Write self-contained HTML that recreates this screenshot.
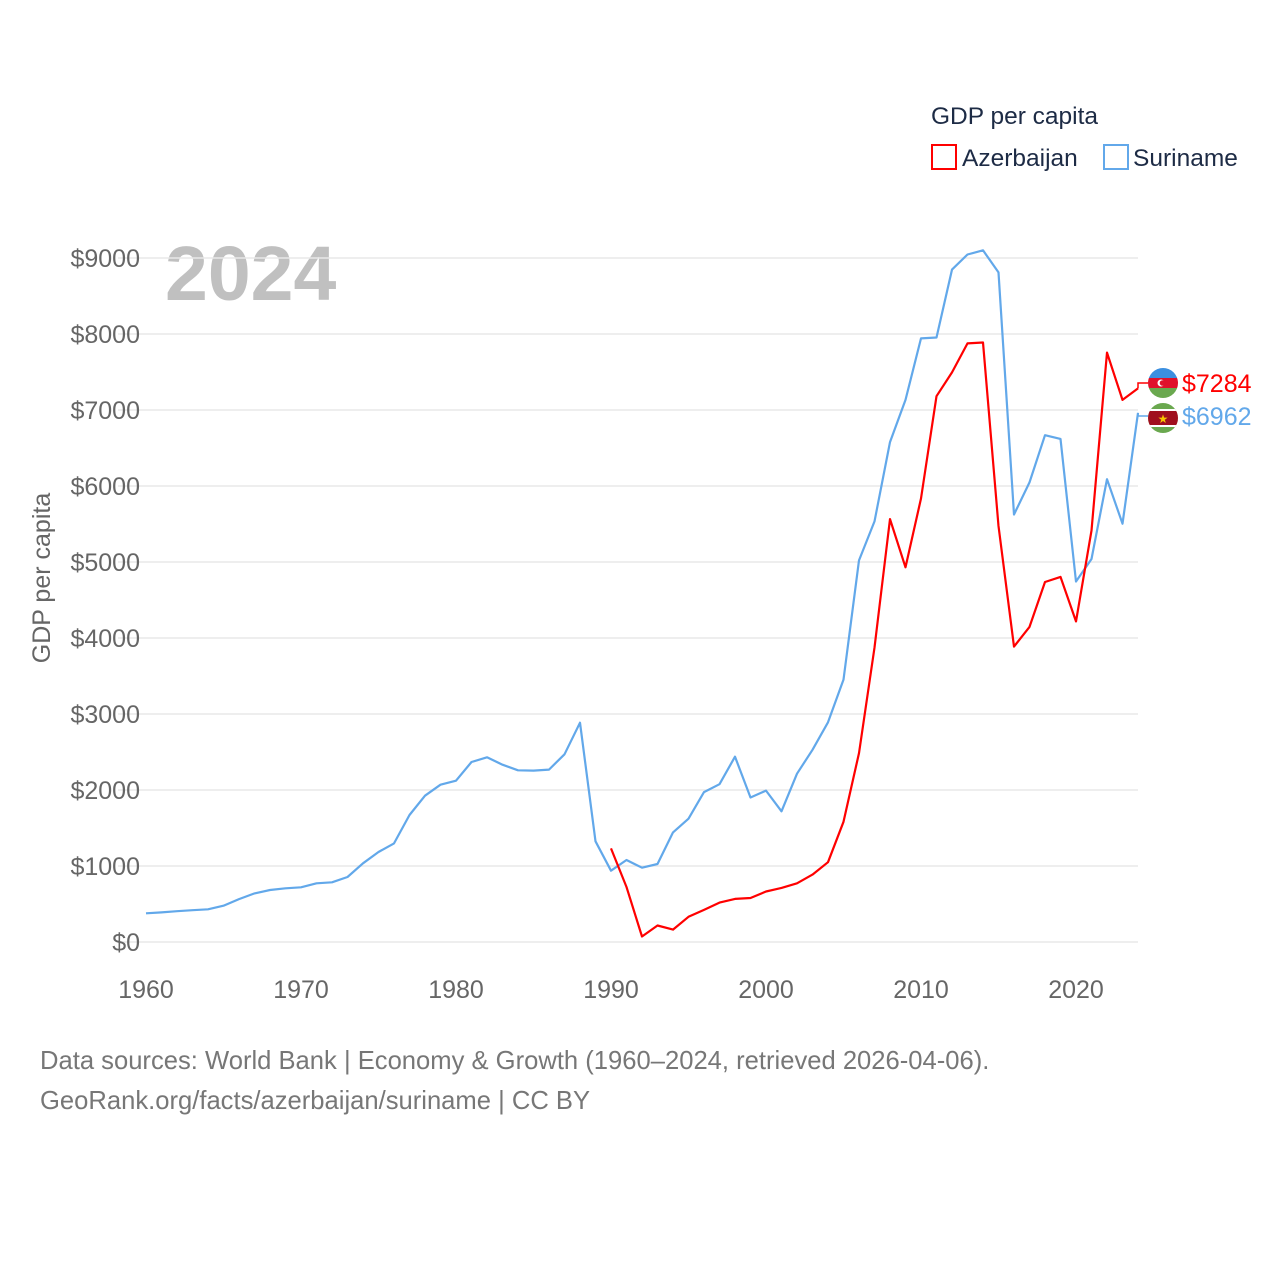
<!DOCTYPE html>
<html><head><meta charset="utf-8"><style>
body{margin:0;background:#fff;}
svg{display:block;font-family:"Liberation Sans",sans-serif;}
</style></head><body>
<svg id="chart" width="1280" height="1280">
<text x="931" y="124" font-size="24.5" fill="#1d2b45">GDP per capita</text>
<g><rect x="932" y="145" width="24" height="24" fill="none" stroke="#ff0000" stroke-width="2"/><text x="962" y="166" font-size="24.5" fill="#1d2b45">Azerbaijan</text></g>
<g><rect x="1104" y="145" width="24" height="24" fill="none" stroke="#62a8ea" stroke-width="2"/><text x="1133" y="166" font-size="24.5" fill="#1d2b45">Suriname</text></g>
<text x="165" y="300" font-size="77" font-weight="bold" fill="#c0c0c0">2024</text>
<g id="grid"></g><g id="yticks"></g><g id="xticks"></g><g id="lines"></g><g id="ends"></g>
<text transform="translate(50,578) rotate(-90)" text-anchor="middle" font-size="25" fill="#666">GDP per capita</text>
<text x="40" y="1069" font-size="25.6" fill="#777">Data sources: World Bank | Economy &amp; Growth (1960–2024, retrieved 2026-04-06).</text>
<text x="40" y="1109" font-size="25.6" fill="#777">GeoRank.org/facts/azerbaijan/suriname | CC BY</text>
</svg>
<script>
const yTicks=[0,1000,2000,3000,4000,5000,6000,7000,8000,9000];
const xTicks=[1960,1970,1980,1990,2000,2010,2020];
const surYears=[];for(let y=1960;y<=2024;y++)surYears.push(y);
const surinameValues=[377,390,405,418,430,478,565,640,684,706,720,772,785,855,1035,1184,1298,1671,1925,2070,2122,2368,2430,2333,2259,2255,2268,2470,2886,1325,938,1079,978,1026,1442,1623,1973,2076,2438,1901,1992,1720,2215,2529,2891,3452,5021,5534,6578,7133,7942,7954,8847,9046,9101,8811,5625,6047,6669,6620,4744,5039,6089,5504,6962];
const azeYears=[];for(let y=1990;y<=2024;y++)azeYears.push(y);
const azerbaijanValues=[1231,724,72,217,163,332,422,519,567,579,664,712,772,887,1050,1581,2486,3874,5564,4930,5836,7182,7495,7876,7888,5474,3887,4146,4737,4804,4218,5413,7755,7133,7284];
const NS="http://www.w3.org/2000/svg";
const xs=y=>146+(y-1960)*15.5;
const ys=v=>942-v*0.076;
function mk(tag,attrs,parent,txt){const e=document.createElementNS(NS,tag);for(const k in attrs)e.setAttribute(k,attrs[k]);if(txt!=null)e.textContent=txt;document.getElementById(parent).appendChild(e);return e;}
yTicks.forEach(v=>{
 const l=mk('line',{x1:118,x2:1138,y1:ys(v),y2:ys(v),stroke:'#e8e8e8','stroke-width':1.5},'grid');
 
 
 const t=mk('text',{x:140,y:ys(v)+9,'text-anchor':'end','font-size':25,fill:'#666'},'yticks','$'+v);
 
 
});
xTicks.forEach(y=>{
 const t=mk('text',{x:xs(y),y:998,'text-anchor':'middle','font-size':25,fill:'#666'},'xticks',y);
 
 
});
function line(years,vals,color,name){
 const d=years.map((y,i)=>(i?'L':'M')+xs(y).toFixed(1)+' '+ys(vals[i]).toFixed(1)).join(' ');
 const p=mk('path',{d:d,fill:'none',stroke:color,'stroke-width':2.2,'stroke-linejoin':'round'},'lines');
 
 
}
line(surYears,surinameValues,'#62a8ea','suriname-line');
line(azeYears,azerbaijanValues,'#ff0000','azerbaijan-line');
function endLabel(vals,color,ly,name,flag){
 const v=vals[vals.length-1],x=xs(2024),y=ys(v);
 mk('path',{d:`M${x} ${y} L${x} ${ly} L1148 ${ly}`,fill:'none',stroke:color,'stroke-width':1.5},'ends');
 const g=mk('g',{},'ends');
 
 
 g.innerHTML=flag;
 const t=mk('text',{x:1182,y:ly+9,'font-size':25,fill:color},'ends','$'+v);
 
 
}
const cx=1163;
endLabel(azerbaijanValues,'#ff0000',383,'azerbaijan',
 `<clipPath id="c1"><circle cx="${cx}" cy="383" r="15"/></clipPath><g clip-path="url(#c1)"><rect x="1148" y="368" width="30" height="10" fill="#3b8fe0"/><rect x="1148" y="378" width="30" height="10" fill="#e0112b"/><rect x="1148" y="388" width="30" height="10" fill="#6aa84f"/><circle cx="1161" cy="383" r="3.5" fill="#fff"/><circle cx="1162.5" cy="383" r="2.8" fill="#e0112b"/></g>`);
endLabel(surinameValues,'#62a8ea',416,'suriname',
 `<clipPath id="c2"><circle cx="${cx}" cy="418" r="15"/></clipPath><g clip-path="url(#c2)"><rect x="1148" y="403" width="30" height="30" fill="#6aa84f"/><rect x="1148" y="409" width="30" height="18" fill="#fff"/><rect x="1148" y="411" width="30" height="14" fill="#a0101e"/><text x="${cx}" y="423" text-anchor="middle" font-size="12" fill="#f7c600">★</text></g>`);
</script>
</body></html>
